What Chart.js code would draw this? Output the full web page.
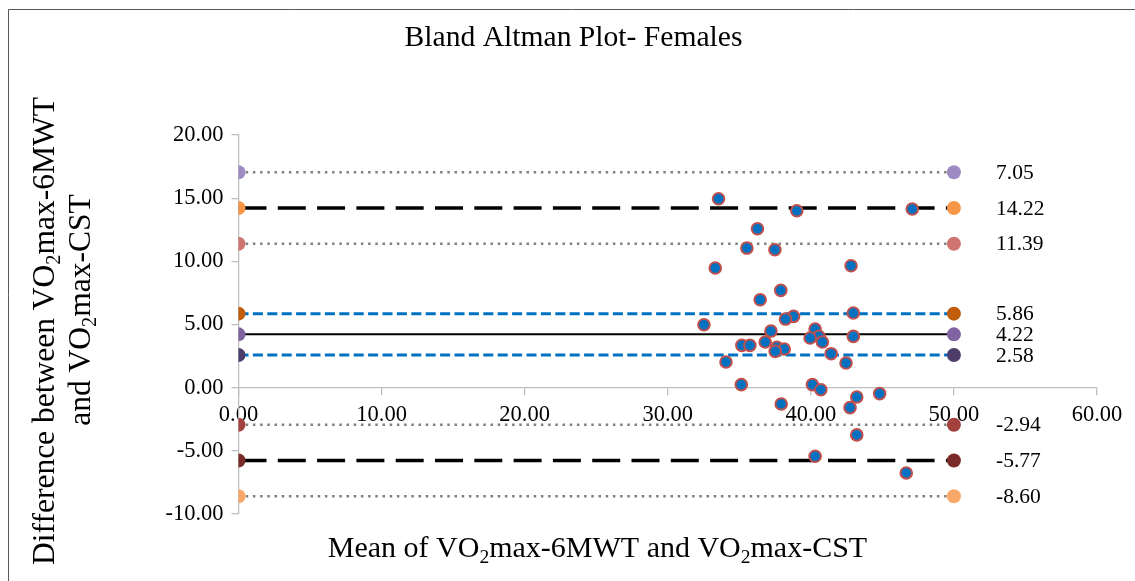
<!DOCTYPE html>
<html><head><meta charset="utf-8">
<script src="https://cdn.jsdelivr.net/npm/chart.js@4.4.1/dist/chart.umd.min.js"></script>
<style>html,body{margin:0;padding:0;background:#fff}</style>
</head><body>
<canvas id="c" width="1135" height="581"></canvas>
<script>
// ---- data ----
const meanValues = [33.55, 39.02, 47.09, 36.27, 35.53, 37.49, 33.32, 42.81, 37.90, 36.46,
  42.97, 38.79, 38.23, 32.53, 37.21, 40.30, 40.56, 39.95, 42.97, 40.81,
  36.81, 35.18, 35.74, 37.63, 38.14, 37.51, 41.42, 42.46, 34.07, 35.14,
  40.11, 40.70, 44.81, 43.21, 37.93, 42.74, 43.21, 40.30, 46.67];
const diffValues = [14.95, 14.00, 14.14, 12.58, 11.05, 10.92, 9.47, 9.65, 7.70, 6.96,
  5.91, 5.64, 5.43, 4.98, 4.48, 4.64, 4.06, 3.93, 4.06, 3.61,
  3.61, 3.35, 3.35, 3.19, 3.06, 2.87, 2.69, 1.95, 2.03, 0.24,
  0.24, -0.16, -0.47, -0.74, -1.29, -1.58, -3.74, -5.43, -6.75];
const limitValues = [17.05, 14.22, 11.39, 5.86, 4.22, 2.58, -2.94, -5.77, -8.60];
const limitLabels = ['7.05', '14.22', '11.39', '5.86', '4.22', '2.58', '-2.94', '-5.77', '-8.60'];
const lineXStart = 0;
const lineXEnd = 50;
const titleText = 'Bland Altman Plot- Females';
const xTitleParts = [['Mean of VO', false], ['2', true], ['max-6MWT and VO', false], ['2', true], ['max-CST', false]];
const yTitleLine1 = [['Difference between VO', false], ['2', true], ['max-6MWT', false]];
const yTitleLine2 = [['and VO', false], ['2', true], ['max-CST', false]];

// ---- styles ----
const markerColors = ['#9F8AC4', '#F79646', '#D07472', '#C05C0A', '#8064A2', '#4E3D6B', '#A3413E', '#7A2A28', '#F9A86A'];
const dotted = {borderColor: '#808080', borderWidth: 2.5, borderDash: [2.5, 4.7]};
const longDash = {borderColor: '#000000', borderWidth: 3.5, borderDash: [28, 11.3]};
const blueDash = {borderColor: '#0070C0', borderWidth: 3, borderDash: [10, 4.4]};
const solid = {borderColor: '#000000', borderWidth: 2, borderDash: []};
const lineStyles = [dotted, longDash, dotted, blueDash, solid, blueDash, dotted, longDash, dotted];

const FONT = '"Liberation Serif", "Times New Roman", serif';

const datasets = [{
  label: 'diff',
  data: meanValues.map((m, i) => ({x: m, y: diffValues[i]})),
  backgroundColor: '#0070C0',
  borderColor: '#C0504D',
  pointRadius: 5.8,
  pointBorderWidth: 2,
  pointHoverRadius: 5.8,
  order: 0
}];
limitValues.forEach((v, i) => {
  datasets.push(Object.assign({
    label: limitLabels[i],
    data: [{x: lineXStart, y: v}, {x: lineXEnd, y: v}],
    showLine: true,
    pointRadius: 7,
    pointHoverRadius: 7,
    pointBorderWidth: 0,
    pointBackgroundColor: markerColors[i],
    pointBorderColor: markerColors[i],
    backgroundColor: markerColors[i],
    fill: false,
    order: 1 + i
  }, lineStyles[i]));
});

function runWidth(ctx, parts, size) {
  let w = 0;
  for (const [t, sub] of parts) {
    ctx.font = (sub ? size * 0.65 : size) + 'px ' + FONT;
    w += ctx.measureText(t).width;
  }
  return w;
}
function drawRun(ctx, parts, size, cx, baseline) {
  let x = cx - runWidth(ctx, parts, size) / 2;
  ctx.textAlign = 'left';
  ctx.textBaseline = 'alphabetic';
  for (const [t, sub] of parts) {
    ctx.font = (sub ? size * 0.65 : size) + 'px ' + FONT;
    ctx.fillText(t, x, sub ? baseline + size * 0.2 : baseline);
    x += ctx.measureText(t).width;
  }
}

const textPlugin = {
  id: 'texts',
  beforeDraw(chart) {
    const ctx = chart.ctx;
    ctx.save();
    ctx.fillStyle = '#fff';
    ctx.fillRect(0, 0, chart.width, chart.height);
    ctx.strokeStyle = '#595959';
    ctx.lineWidth = 1;
    ctx.beginPath();
    ctx.moveTo(8.5, chart.height);
    ctx.lineTo(8.5, 9.5);
    ctx.lineTo(chart.width, 9.5);
    ctx.stroke();
    ctx.restore();
  },
  afterDraw(chart) {
    const ctx = chart.ctx;
    const ys = chart.scales.y;
    ctx.save();
    ctx.fillStyle = '#000';
    ctx.font = '29.6px ' + FONT;
    ctx.textAlign = 'center';
    ctx.textBaseline = 'alphabetic';
    ctx.fillText(titleText, 573.5, 46);
    drawRun(ctx, xTitleParts, 30, 597.5, 557);
    ctx.save();
    ctx.translate(54, 331);
    ctx.rotate(-Math.PI / 2);
    drawRun(ctx, yTitleLine1, 31.5, 0, 0);
    ctx.restore();
    ctx.save();
    ctx.translate(90, 310);
    ctx.rotate(-Math.PI / 2);
    drawRun(ctx, yTitleLine2, 31.5, 0, 0);
    ctx.restore();
    ctx.font = '21.5px ' + FONT;
    ctx.textAlign = 'left';
    ctx.textBaseline = 'middle';
    limitValues.forEach((v, i) => {
      ctx.fillText(limitLabels[i], 996, ys.getPixelForValue(v) + 1);
    });
    ctx.restore();
  }
};

new Chart(document.getElementById('c'), {
  type: 'scatter',
  data: {datasets},
  plugins: [textPlugin],
  options: {
    responsive: false,
    devicePixelRatio: 1,
    animation: false,
    events: [],
    layout: {padding: {left: 0, right: 38, top: 135, bottom: 67}},
    plugins: {legend: {display: false}, title: {display: false}, tooltip: {enabled: false}},
    scales: {
      x: {
        type: 'linear',
        position: {y: 0},
        min: 0, max: 60,
        afterFit(s) { s.height = 0; },
        ticks: {stepSize: 10, padding: 7, color: '#000', font: {family: FONT, size: 22.5},
          callback: v => Number(v).toFixed(2)},
        grid: {drawOnChartArea: false, drawTicks: true, tickLength: 7, color: '#BFBFBF', lineWidth: 1.3},
        border: {color: '#BFBFBF', width: 1.3}
      },
      y: {
        type: 'linear',
        min: -10, max: 20,
        afterFit(s) { s.width = 238.5; },
        ticks: {stepSize: 5, padding: 8, color: '#000', font: {family: FONT, size: 22.5},
          callback: v => Number(v).toFixed(2)},
        grid: {drawOnChartArea: false, drawTicks: true, tickLength: 7, color: '#BFBFBF', lineWidth: 1.3},
        border: {color: '#BFBFBF', width: 1.3}
      }
    }
  }
});
</script>
</body></html>
